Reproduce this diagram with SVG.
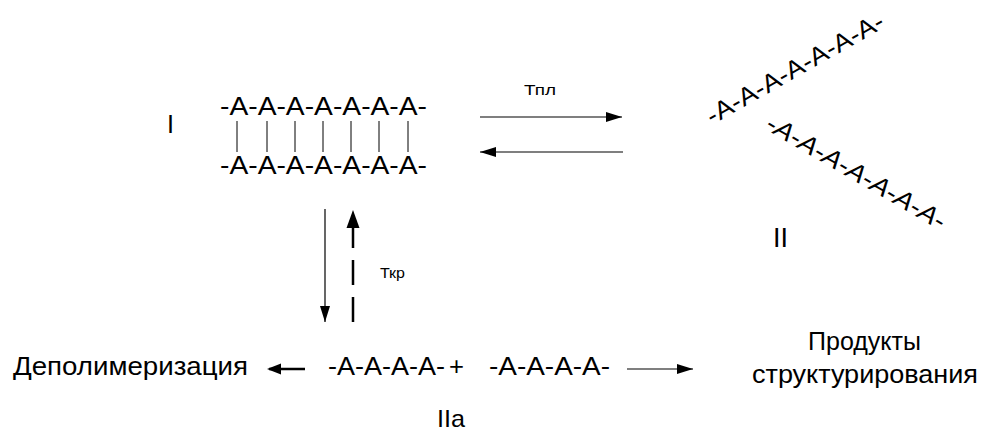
<svg xmlns="http://www.w3.org/2000/svg" width="981" height="432" viewBox="0 0 981 432">
  <style>
    text { font-family: "Liberation Sans", Arial, sans-serif; fill: #000; }
    .chain { font-size: 25px; }
    .roman { font-size: 25px; }
    .label { font-size: 15px; }
    .word { font-size: 25px; }
    .thin { stroke: #000; stroke-width: 1.2; fill: none; }
    .thick { stroke: #000; stroke-width: 2.5; fill: none; }
    .bond { stroke: #000; stroke-width: 1; }
  </style>
  <defs>
    <marker id="head" markerUnits="userSpaceOnUse" markerWidth="18" markerHeight="12" refX="16" refY="5" orient="auto">
      <path d="M0,0 L16,5 L0,10 Z" fill="#000"/>
    </marker>
  </defs>

  <rect width="981" height="432" fill="#fff"/>

  <!-- Structure I: double chain with cross-links -->
  <g id="node-I">
    <text class="roman" x="167" y="133" textLength="7" lengthAdjust="spacingAndGlyphs">I</text>
    <text class="chain" x="220" y="115" textLength="207" lengthAdjust="spacingAndGlyphs">-A-A-A-A-A-A-A-</text>
    <g class="bond">
      <line x1="237" y1="121" x2="237" y2="152"/>
      <line x1="267" y1="121" x2="267" y2="152"/>
      <line x1="295" y1="121" x2="295" y2="152"/>
      <line x1="323" y1="121" x2="323" y2="152"/>
      <line x1="351" y1="121" x2="351" y2="152"/>
      <line x1="379" y1="121" x2="379" y2="152"/>
      <line x1="408" y1="121" x2="408" y2="152"/>
    </g>
    <text class="chain" x="220" y="174" textLength="207" lengthAdjust="spacingAndGlyphs">-A-A-A-A-A-A-A-</text>
  </g>

  <!-- Structure II: separated chains -->
  <g id="node-II">
    <text class="chain" transform="translate(712,125) rotate(-29.5)" x="0" y="0" textLength="200" lengthAdjust="spacingAndGlyphs">-A-A-A-A-A-A-A-</text>
    <text class="chain" transform="translate(763,128) rotate(30) skewX(-12)" x="0" y="0" textLength="203" lengthAdjust="spacingAndGlyphs">-A-A-A-A-A-A-A-</text>
    <text class="roman" x="773" y="247" style="font-size:27px">II</text>
  </g>

  <!-- Structure IIa: fragments -->
  <g id="node-IIa">
    <text class="chain" x="328" y="375" textLength="117" lengthAdjust="spacingAndGlyphs">-A-A-A-A-</text>
    <text class="chain" x="449" y="375" textLength="15" lengthAdjust="spacingAndGlyphs">+</text>
    <text class="chain" x="489" y="375" textLength="121" lengthAdjust="spacingAndGlyphs">-A-A-A-A-</text>
    <text class="roman" x="437" y="427" style="font-size:24px" textLength="28" lengthAdjust="spacingAndGlyphs">IIa</text>
  </g>

  <g id="node-depolymerization">
    <text class="word" x="13" y="375" textLength="235" lengthAdjust="spacingAndGlyphs">Деполимеризация</text>
  </g>

  <g id="node-products">
    <text class="word" x="808" y="350" textLength="113" lengthAdjust="spacingAndGlyphs">Продукты</text>
    <text class="word" x="752" y="383" textLength="226" lengthAdjust="spacingAndGlyphs">структурирования</text>
  </g>

  <!-- Connectors -->
  <g id="connectors">
    <line class="thin" x1="480" y1="117" x2="622" y2="117" marker-end="url(#head)"/>
    <line class="thin" x1="623" y1="152" x2="480" y2="152" marker-end="url(#head)"/>
    <text class="label" x="524" y="95" textLength="32" lengthAdjust="spacingAndGlyphs">Тпл</text>

    <line class="thin" x1="325" y1="209" x2="325" y2="322" marker-end="url(#head)"/>
    <line class="thick" x1="353" y1="322" x2="353" y2="227" stroke-dasharray="25 12"/>
    <path d="M346.5,228 L353,210 L359.5,228 Z" fill="#000"/>
    <text class="label" x="380" y="278" textLength="25" lengthAdjust="spacingAndGlyphs">Ткр</text>

    <line class="thick" x1="305" y1="369" x2="269" y2="369"/>
    <path d="M281,363.5 L267,369 L281,374.5 Z" fill="#000"/>

    <line class="thin" x1="627" y1="369" x2="693" y2="369" marker-end="url(#head)"/>
  </g>
</svg>
